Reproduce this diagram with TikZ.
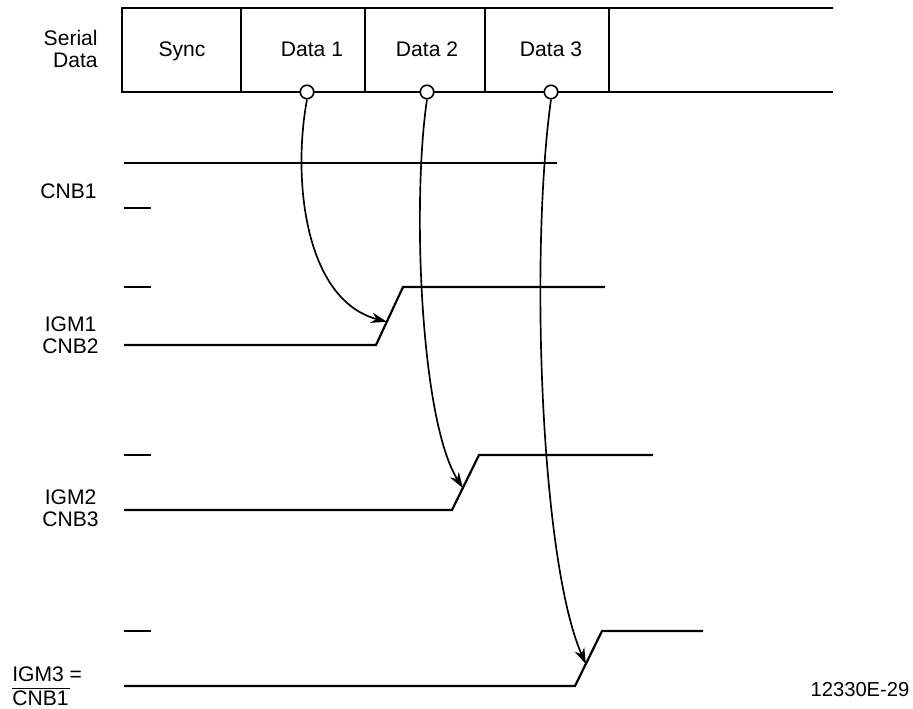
\documentclass[tikz,border=0pt]{standalone}
\usepackage{fontspec}
\setmainfont{Liberation Sans}
\usetikzlibrary{arrows.meta}

\begin{document}
\begin{tikzpicture}[x=0.02cm,y=-0.02cm,
  sig/.style={line width=1.25pt},
  lbl/.style={font=\fontsize{12}{12.5}\selectfont,inner sep=0pt,align=center},
  pin/.style={circle,draw,line width=0.9pt,fill=white,inner sep=0pt,minimum size=0.27cm},
  flow/.style={line width=0.95pt,-{Stealth[length=9pt,width=6pt]}}]

\useasboundingbox (0,0) rectangle (913,709);

% --- Serial data frame ---
\draw[sig] (833,8) -- (122,8) -- (122,92) -- (833,92);
\foreach \x in {241,365,485,609} \draw[sig] (\x,8) -- (\x,92);
\node[lbl,align=right,anchor=east] (serial) at (98,49) {Serial\\Data};
\foreach \x/\lab/\nm in {182/Sync/sync,312/Data 1/d1,427/Data 2/d2,551/Data 3/d3}
  \node[lbl,anchor=base] (\nm) at (\x,57) {\lab};

% pins on the frame
\foreach \x/\nm in {307/p1,427/p2,551/p3}
  \node[pin] (\nm) at (\x,92) {};

% --- CNB1 ---
\draw[sig] (124,163) -- (557,163);
\draw[sig] (124,208) -- (151,208);
\node[lbl,anchor=base east] (cnb1) at (97,199) {CNB1};

% --- IGM1, IGM2, IGM3 with ramps ---
\foreach \i/\yh/\yl/\xr/\xe in {1/287/345/376/605,2/455/510/452/653,3/631/686/575/703} {
  \draw[sig] (124,\yh) -- (151,\yh);
  \draw[sig] (124,\yl) -- (\xr,\yl) -- (\xr+27,\yh) -- (\xe,\yh);
  \path (\xr,\yl) -- (\xr+27,\yh) coordinate[pos=0.4] (t\i);
}
\node[lbl,anchor=east] (igm1) at (99,335) {IGM1\\CNB2};
\node[lbl,anchor=east] (igm2) at (99,508) {IGM2\\CNB3};
\node[lbl,anchor=west,align=left] (igm3) at (12,686) {IGM3 =\\[1pt]$\overline{\mbox{CNB1\kern1pt}}$};
\node[lbl,font=\fontsize{11.5}{12}\selectfont] (fig) at (860,690) {12330E-29};

% --- data to gate arrows ---
\draw[flow] (p1.south) .. controls (292,180) and (305,300) .. (t1);
\draw[flow] (p2.south) .. controls (412,200) and (420,420) .. (t2);
\draw[flow] (p3.south) .. controls (530,250) and (540,560) .. (t3);

\end{tikzpicture}
\end{document}
